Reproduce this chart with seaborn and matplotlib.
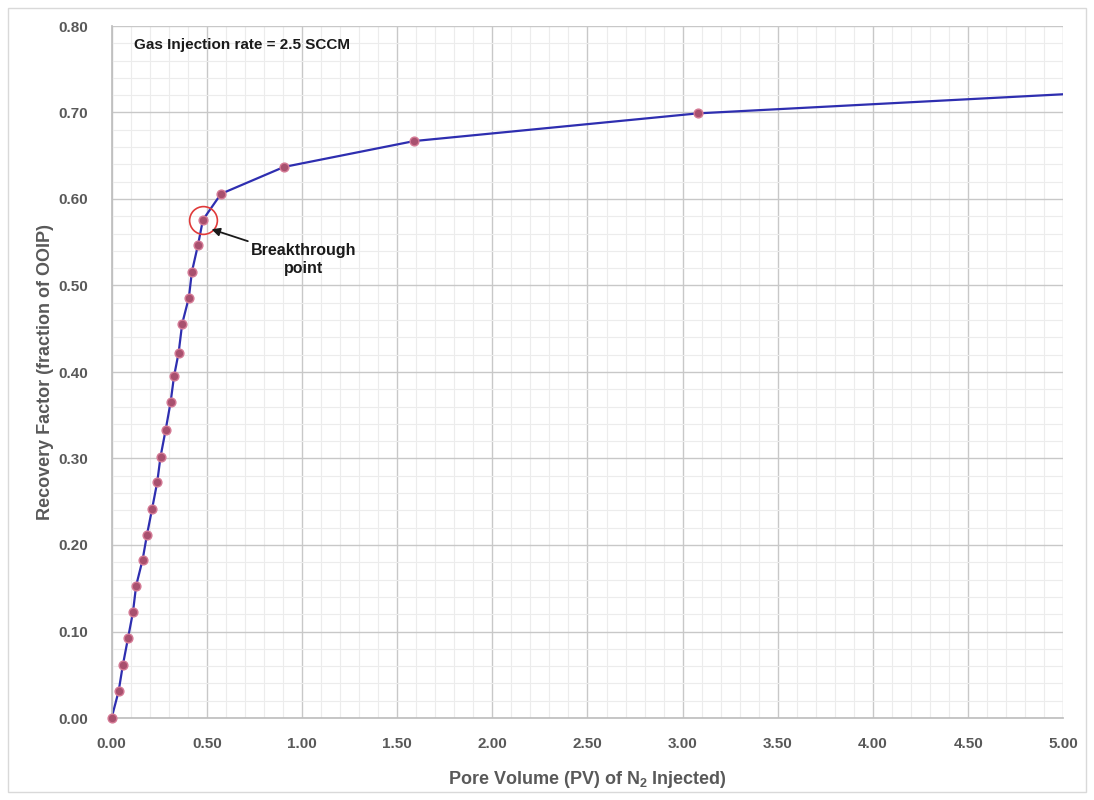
import matplotlib
matplotlib.use("Agg")
import matplotlib.pyplot as plt
import matplotlib.patches as mpatches
from matplotlib.ticker import MultipleLocator, FormatStrFormatter
import pandas as pd
import seaborn as sns

# pore volume injected (PV) and recovery factor (fraction of OOIP)
pv = [0.0, 0.037, 0.059, 0.086, 0.112, 0.129, 0.163, 0.186, 0.213, 0.240,
      0.257, 0.284, 0.310, 0.328, 0.352, 0.371, 0.406, 0.422, 0.454, 0.480,
      0.575, 0.905, 1.59, 3.08, 5.60]
rf = [0.0, 0.031, 0.061, 0.092, 0.122, 0.153, 0.183, 0.212, 0.242, 0.273,
      0.302, 0.333, 0.365, 0.395, 0.422, 0.456, 0.486, 0.516, 0.547, 0.576,
      0.606, 0.637, 0.667, 0.699, 0.728]
bt_pv, bt_rf = 0.480, 0.576
df = pd.DataFrame({"pv": pv, "rf": rf})
shown = df[df["pv"] <= 5.0]

sns.set_theme(style="white")
plt.rcParams["font.family"] = ["Liberation Sans", "DejaVu Sans"]
plt.rcParams["mathtext.fontset"] = "custom"
plt.rcParams["mathtext.rm"] = "Liberation Sans:bold"
plt.rcParams["mathtext.default"] = "rm"

fig = plt.figure(figsize=(10.94, 8), dpi=100)
ax = fig.add_axes([0.102, 0.1025, 0.870, 0.865])

# line (clipped at the axes edge) and markers (not clipped, so the origin shows fully)
sns.lineplot(data=df, x="pv", y="rf", ax=ax, color="#2e2eb0", linewidth=1.6)
sns.scatterplot(data=shown, x="pv", y="rf", ax=ax, s=40, color="#a8506e",
                edgecolor="#d57a95", linewidth=1.0, zorder=3, clip_on=False)

# breakthrough marker circle
ax.plot([bt_pv], [bt_rf], "o", markersize=20, markerfacecolor="none",
        markeredgecolor="#e03a3a", markeredgewidth=1.2)
ax.annotate("Breakthrough\npoint", xy=(0.525, 0.565), xytext=(1.01, 0.530),
            ha="center", va="center", fontsize=11.5, fontweight="bold",
            color="#1a1a1a", linespacing=1.25,
            arrowprops=dict(arrowstyle="-|>", color="#1a1a1a", lw=1.3,
                            shrinkA=30, shrinkB=0, mutation_scale=12))
ax.text(0.12, 0.778, "Gas Injection rate = 2.5 SCCM", fontsize=11,
        fontweight="bold", color="#1a1a1a", va="center")

ax.set_xlim(0, 5)
ax.set_ylim(0, 0.8)
ax.xaxis.set_major_locator(MultipleLocator(0.5))
ax.xaxis.set_minor_locator(MultipleLocator(0.1))
ax.yaxis.set_major_locator(MultipleLocator(0.1))
ax.yaxis.set_minor_locator(MultipleLocator(0.02))
ax.xaxis.set_major_formatter(FormatStrFormatter("%.2f"))
ax.yaxis.set_major_formatter(FormatStrFormatter("%.2f"))
ax.grid(which="major", color="#c8c8c8", linewidth=1.0)
ax.grid(which="minor", color="#ececec", linewidth=0.8)
ax.set_axisbelow(True)
ax.tick_params(which="both", length=0)
ax.tick_params(axis="both", labelsize=11, labelcolor="#595959")
ax.tick_params(axis="x", pad=14)
ax.tick_params(axis="y", pad=17)
for lab in ax.get_xticklabels() + ax.get_yticklabels():
    lab.set_fontweight("bold")
for side, sp in ax.spines.items():
    sp.set_visible(side in ("left", "bottom"))
    sp.set_color("#bfbfbf")

ax.set_xlabel("Pore Volume (PV) of N$_2$ Injected)", fontsize=13,
              fontweight="bold", color="#595959", labelpad=13)
ax.set_ylabel("Recovery Factor (fraction of OOIP)", fontsize=13,
              fontweight="bold", color="#595959", labelpad=3)

fig.patches.append(mpatches.Rectangle((0.007, 0.01), 0.986, 0.98,
                                      transform=fig.transFigure, fill=False,
                                      edgecolor="#d9d9d9", linewidth=1.0))

fig.savefig("out.png", dpi=100)
